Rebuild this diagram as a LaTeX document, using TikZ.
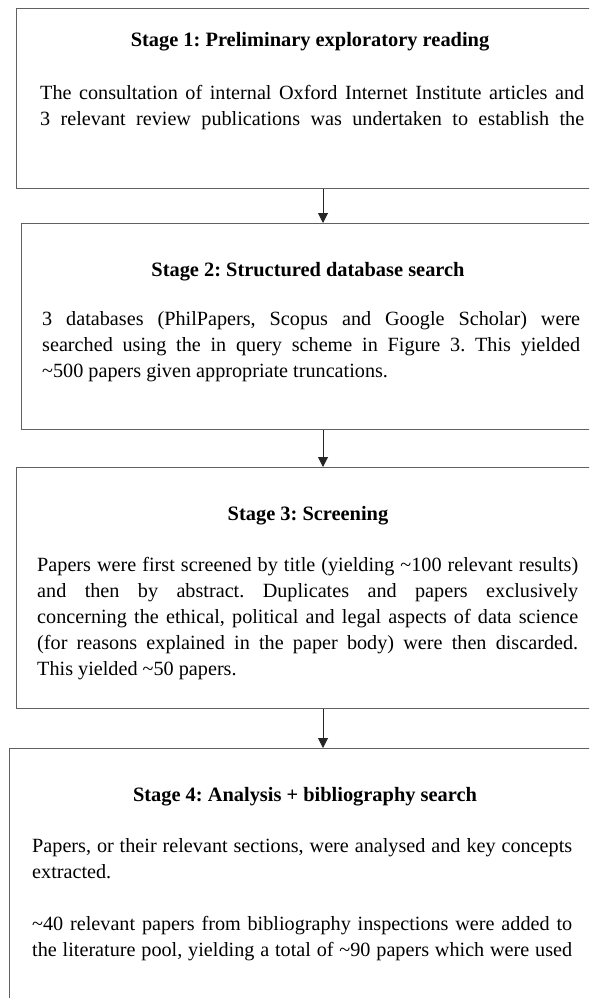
\documentclass[tikz,border=0pt]{standalone}
\usepackage{fontspec}
\setmainfont{Liberation Serif}
\usetikzlibrary{arrows.meta}
\frenchspacing
\begin{document}
\begin{tikzpicture}[x=1pt,y=-1pt,
  stagebox/.style={draw=black!62, line width=1.3pt, anchor=north west, inner sep=0pt, minimum width=640pt},
  stagetitle/.style={font=\fontsize{20.4}{24}\selectfont\bfseries, anchor=base, inner sep=0pt},
  stagebody/.style={font=\fontsize{20.2}{26}\selectfont\frenchspacing, anchor=north west, text width=#1, align=justify, inner sep=0pt},
  flow/.style={draw=black!85, line width=1pt, -{Triangle[width=10pt,length=10pt]}}
]
\useasboundingbox (0,0) rectangle (589,998);
\clip (0,0) rectangle (589,998);

\node[stagebox, minimum height=180pt] (s1) at (16,8) {};
\node[stagebox, minimum height=206pt] (s2) at (21,223) {};
\node[stagebox, minimum height=241pt] (s3) at (16,467) {};
\node[stagebox, minimum height=300pt] (s4) at (9,748) {};

\coordinate (ax) at (323,0);
\draw[flow] (s1.south -| ax) -- (s2.north -| ax);
\draw[flow] (s2.south -| ax) -- (s3.north -| ax);
\draw[flow] (s3.south -| ax) -- (s4.north -| ax);

\node[stagetitle] (t1) at (310,47) {Stage 1: Preliminary exploratory reading};
\node[stagetitle] (t2) at (308,276) {Stage 2: Structured database search};
\node[stagetitle] (t3) at (308,520) {Stage 3: Screening};
\node[stagetitle] (t4) at (305,801) {Stage 4: Analysis + bibliography search};

\node[stagebody=544pt] (b1) at (40,85.2) {The consultation of internal Oxford Internet Institute articles and\linebreak 3 relevant review publications was undertaken to establish the\linebreak};
\node[stagebody=538pt] (b2) at (42,311.2) {3 databases (PhilPapers, Scopus and Google Scholar) were\linebreak searched using the in query scheme in Figure 3. This yielded\linebreak \textasciitilde500 papers given appropriate truncations.};
\node[stagebody=541pt] (b3) at (37,557.2) {Papers were first screened by title (yielding \textasciitilde100 relevant results)\linebreak and then by abstract. Duplicates and papers exclusively\linebreak concerning the ethical, political and legal aspects of data science\linebreak (for reasons explained in the paper body) were then discarded.\linebreak This yielded \textasciitilde50 papers.};
\node[stagebody=540pt] (b4) at (32,838.2) {Papers, or their relevant sections, were analysed and key concepts\linebreak extracted.\par\vspace{26pt}\textasciitilde40 relevant papers from bibliography inspections were added to\linebreak the literature pool, yielding a total of \textasciitilde90 papers which were used\linebreak};
\end{tikzpicture}
\end{document}
